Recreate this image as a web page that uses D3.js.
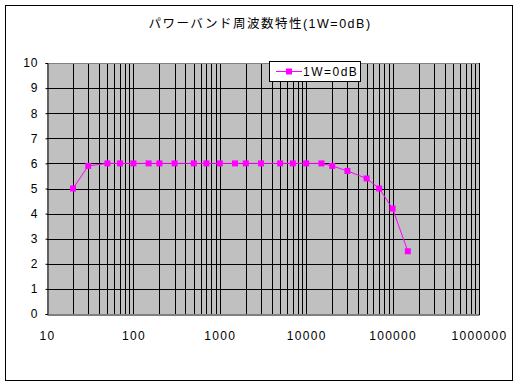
<!DOCTYPE html>
<html><head><meta charset="utf-8">
<script src="https://cdn.jsdelivr.net/npm/d3@7"></script>
<style>body{margin:0;background:#fff}svg{display:block}text{font-family:"Liberation Sans","Noto Sans CJK JP",sans-serif}</style>
</head><body>
<script>
const title = "パワーバンド周波数特性(1W=0dB)";
const seriesName = "1W=0dB";
const freqs = [20,30,50,70,100,150,200,300,500,700,1000,1500,2000,3000,5000,7000,10000,15000,20000,30000,50000,70000,100000,150000];
const values = [5.0,5.9,6.0,6.0,6.0,6.0,6.0,6.0,6.0,6.0,6.0,6.0,6.0,6.0,6.0,6.0,6.0,6.0,5.9,5.7,5.4,5.0,4.2,2.5];
const xTicks = [10,100,1000,10000,100000,1000000];
const yTicks = [0,1,2,3,4,5,6,7,8,9,10];

const W=524,H=385;
const svg=d3.select("body").append("svg").attr("width",W).attr("height",H);
svg.append("rect").attr("x",5.5).attr("y",5.5).attr("width",507).attr("height",375).attr("fill","#fff").attr("stroke","#000").attr("stroke-width",1);

const L=47,R=479,T=63,B=314;
const x=d3.scaleLog().domain([10,1e6]).range([L,R]);
const y=d3.scaleLinear().domain([0,10]).range([B,T]);

svg.append("rect").attr("x",L).attr("y",T).attr("width",R-L).attr("height",B-T).attr("fill","#c0c0c0");

const minor=[];
for(let d=10; d<1e6; d*=10){ for(let k=1;k<10;k++){ minor.push(d*k);} }
svg.append("g").selectAll("line").data(minor.filter(v=>v>10)).join("line")
  .attr("x1",d=>Math.round(x(d))+0.5).attr("x2",d=>Math.round(x(d))+0.5)
  .attr("y1",T).attr("y2",B).attr("stroke","#000").attr("stroke-width",1);
svg.append("g").selectAll("line").data(yTicks.filter(v=>v>0&&v<10)).join("line")
  .attr("x1",L).attr("x2",R).attr("y1",d=>Math.round(y(d))+0.5).attr("y2",d=>Math.round(y(d))+0.5)
  .attr("stroke","#000").attr("stroke-width",1);
svg.append("line").attr("x1",L).attr("x2",R).attr("y1",T+0.5).attr("y2",T+0.5).attr("stroke","#808080");
svg.append("line").attr("x1",R+0.5).attr("x2",R+0.5).attr("y1",T).attr("y2",B+1).attr("stroke","#000");

const yAxis=d3.axisLeft(y).tickValues(yTicks).tickSize(2).tickPadding(7).tickFormat(d3.format("d"));
const gy=svg.append("g").attr("transform",`translate(${L+0.5},0)`).call(yAxis);
gy.select(".domain").attr("stroke","#000");
gy.selectAll("text").attr("font-size",12).attr("fill","#000").attr("letter-spacing",1);

const xAxis=d3.axisBottom(x).tickValues(xTicks).tickSize(0).tickPadding(17).tickFormat(d3.format("d"));
const gx=svg.append("g").attr("transform",`translate(0,${B+0.5})`).call(xAxis);
gx.select(".domain").attr("stroke","#000");
gx.selectAll("text").attr("font-size",12).attr("fill","#000").attr("letter-spacing",1.3);

const pts=freqs.map((f,i)=>[f,values[i]]);
svg.append("path").datum(pts).attr("fill","none").attr("stroke","#ff00ff").attr("stroke-width",1)
  .attr("d",d3.line().x(d=>x(d[0])).y(d=>y(d[1])));
svg.append("g").selectAll("rect").data(pts).join("rect")
  .attr("x",d=>x(d[0])-3).attr("y",d=>y(d[1])-3).attr("width",6).attr("height",6).attr("fill","#ff00ff");

const lg=svg.append("g");
lg.append("rect").attr("x",269.5).attr("y",61.5).attr("width",91).attr("height",20).attr("fill","#fff").attr("stroke","#000");
lg.append("line").attr("x1",276).attr("x2",302).attr("y1",71.5).attr("y2",71.5).attr("stroke","#ff00ff");
lg.append("rect").attr("x",286).attr("y",68.5).attr("width",6).attr("height",6).attr("fill","#ff00ff");
lg.append("text").attr("x",303).attr("y",76).attr("font-size",12).attr("letter-spacing",1.5).text(seriesName);

svg.append("text").attr("x",260).attr("y",28).attr("text-anchor","middle").attr("font-size",12.5).attr("letter-spacing",1.5).text(title);
</script>
</body></html>
